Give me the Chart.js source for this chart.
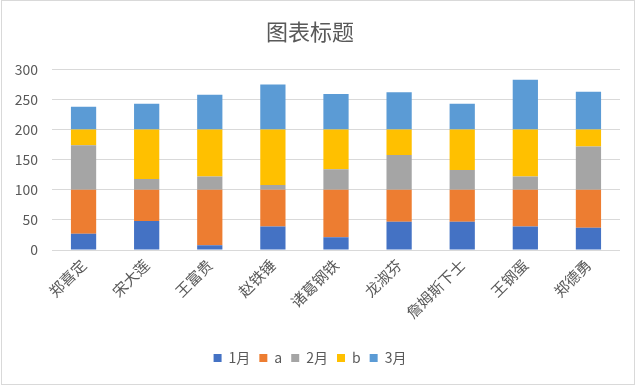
<!DOCTYPE html>
<html>
<head>
<meta charset="utf-8">
<script src="https://cdn.jsdelivr.net/npm/chart.js@4"></script>
<style>
html,body{margin:0;padding:0;background:#fff;}
#wrap{width:640px;height:385px;position:relative;}
</style>
</head>
<body>
<div id="wrap"><canvas id="c" width="640" height="385"></canvas></div>
<script>
const categories = ["郑喜定","宋大莲","王富贵","赵铁锤","诸葛钢铁","龙淑芬","詹姆斯下士","王钢蛋","郑德勇"];
const jan = [27,48,8,39,21,47,47,39,37];
const fillA = [73,52,92,61,79,53,53,61,63];
const feb = [74,18,22,8,34,58,33,22,72];
const fillB = [26,82,78,92,66,42,67,78,28];
const mar = [38,43,58,75,59,62,43,83,63];
const yTicks = [0,50,100,150,200,250,300];

const FONT = "'Noto Sans CJK SC', 'Noto Sans', sans-serif";
const GRAY = "#595959";

const borderPlugin = {
  id: 'frame',
  afterDraw(chart) {
    const ctx = chart.ctx;
    ctx.save();
    ctx.strokeStyle = '#d9d9d9';
    ctx.lineWidth = 1;
    ctx.strokeRect(1.5, 0.5, chart.width - 7, chart.height - 1);
    ctx.restore();
  }
};

new Chart(document.getElementById('c'), {
  type: 'bar',
  data: {
    labels: categories,
    datasets: [
      {label: '1月', data: jan, backgroundColor: '#4472C4'},
      {label: 'a', data: fillA, backgroundColor: '#ED7D31'},
      {label: '2月', data: feb, backgroundColor: '#A5A5A5'},
      {label: 'b', data: fillB, backgroundColor: '#FFC000'},
      {label: '3月', data: mar, backgroundColor: '#5B9BD5'}
    ]
  },
  options: {
    responsive: false,
    animation: false,
    devicePixelRatio: 1,
    layout: {padding: {left: 0, right: 20, top: 0, bottom: 10}},
    datasets: {bar: {barPercentage: 0.4, categoryPercentage: 1.0, borderWidth: 0}},
    plugins: {
      title: {
        display: true, text: '图表标题', color: GRAY,
        font: {family: FONT, size: 22, weight: 'normal'},
        padding: {top: 18, bottom: 25}
      },
      legend: {
        position: 'bottom',
        labels: {
          color: GRAY, boxWidth: 8, boxHeight: 8, padding: 9,
          font: {family: FONT, size: 14}
        }
      },
      tooltip: {enabled: false}
    },
    scales: {
      x: {
        stacked: true,
        afterFit(scale) { scale.height = 92; },
        grid: {display: false, drawTicks: false},
        border: {display: false},
        ticks: {
          color: GRAY, maxRotation: 45, minRotation: 45, padding: 6,
          font: {family: FONT, size: 15}, autoSkip: false
        }
      },
      y: {
        stacked: true,
        min: 0, max: 300,
        afterFit(scale) { scale.width = 52; },
        afterBuildTicks(scale) { scale.ticks = yTicks.map(v => ({value: v})); },
        grid: {color: '#d9d9d9', lineWidth: 1, drawTicks: false},
        border: {display: false},
        ticks: {
          color: GRAY, padding: 14, stepSize: 50,
          font: {family: FONT, size: 14}
        }
      }
    }
  },
  plugins: [borderPlugin]
});
</script>
</body>
</html>
